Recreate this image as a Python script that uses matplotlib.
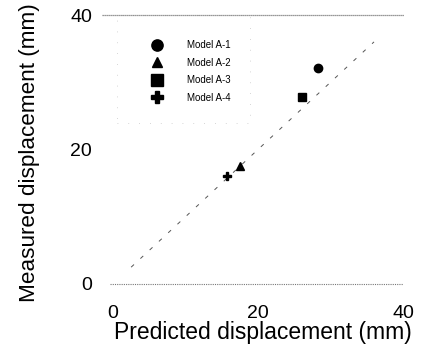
import matplotlib
matplotlib.use("Agg")
import matplotlib.pyplot as plt
from matplotlib.patches import Rectangle

plt.rcParams['font.family'] = ['Liberation Sans', 'DejaVu Sans']

models = ["Model A-1", "Model A-2", "Model A-3", "Model A-4"]
predicted = [28.3, 17.5, 26.1, 15.7]
measured = [32.1, 17.5, 27.8, 16.0]
markers = ["o", "^", "s", "P"]
ticks = [0, 20, 40]


def main():
    fig = plt.figure(figsize=(4.22, 3.56), dpi=100)
    ax = fig.add_axes([113 / 422, 72 / 356, 290 / 422, 269 / 356])
    ax.set_xlim(0, 40)
    ax.set_ylim(0, 40)

    # faded frame lines at 0 and 40
    ax.plot([-0.4, 40], [0, 0], color="#777777", lw=0.8, ls=(0, (1, 1)), clip_on=False)
    ax.plot([-1.5, 40.2], [40, 40], color="#777777", lw=0.9, ls=(0, (1, 0.6)), clip_on=False)

    # faint box around the key
    ax.add_patch(Rectangle((0.014, 0.60), 0.46, 0.40, transform=ax.transAxes,
                           fill=False, ec="#c8c8c8", lw=0.6, ls=(0, (1, 12))))

    # 1:1 line
    ax.plot([2.5, 36], [2.5, 36], color="#555555", lw=0.7, ls=(0, (4, 9)))

    for name, px, my, mk in zip(models, predicted, measured, markers):
        size = 5.5 if mk == "^" else 6
        ax.plot(px, my, marker=mk, color="black", ms=size, ls="none", label=name)

    ax.legend(loc="upper left", bbox_to_anchor=(0.115, 0.925), frameon=False,
              fontsize=7, handletextpad=2.5, labelspacing=0.78, markerscale=1.35,
              handlelength=1.2, borderpad=0)

    for s in ax.spines.values():
        s.set_visible(False)
    ax.set_xticks(ticks)
    ax.set_yticks(ticks)
    ax.tick_params(length=0, labelsize=14)
    ax.tick_params(axis="x", pad=15)
    ax.tick_params(axis="y", pad=15)

    ax.set_xlabel("Predicted displacement (mm)", fontsize=16.5)
    ax.set_ylabel("Measured displacement (mm)", fontsize=16.2)
    ax.xaxis.set_label_coords(0.517, -0.1375)
    ax.yaxis.set_label_coords(-0.252, 0.49)

    fig.savefig("out.png", dpi=100)


main()
